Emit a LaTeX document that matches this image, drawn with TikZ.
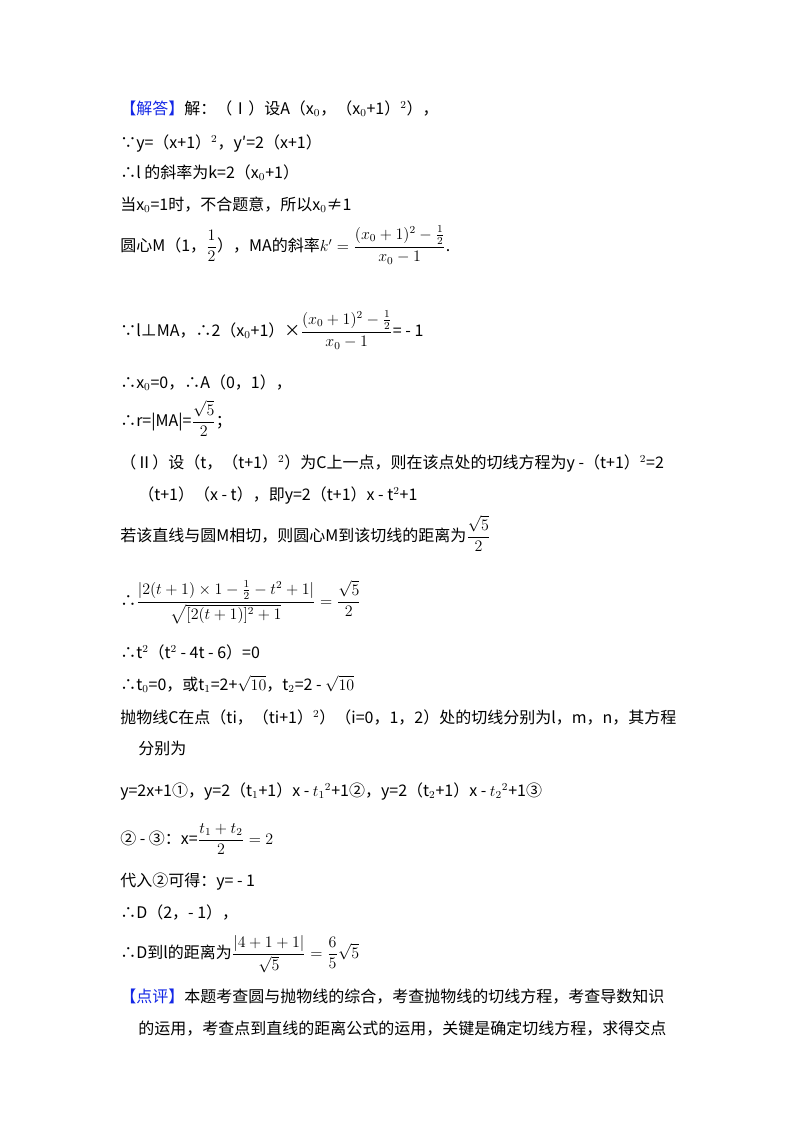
\documentclass[tikz,border=0pt]{standalone}
\usepackage{fontspec}
\setmainfont{Noto Sans CJK SC}
\usepackage{amsmath}
\definecolor{tagblue}{RGB}{20,40,230}
\begin{document}
\begin{tikzpicture}[x=0.75pt,y=-0.75pt,
  ln/.style={anchor=base west,inner sep=0pt,font=\fontsize{12}{14}\selectfont}]
\useasboundingbox[fill=white] (0,0) rectangle (800,1133);
\newcommand{\tagb}[1]{\textcolor{tagblue}{#1}}
\node[ln] (l1) at (120,114) {\tagb{【解答】}解：（Ⅰ）设A（x$_0$，（x$_0$+1）$^2$），};
\node[ln] (l2) at (120,148) {∵y=（x+1）$^2$，y′=2（x+1）};
\node[ln] (l3) at (120,178) {∴l 的斜率为k=2（x$_0$+1）};
\node[ln] (l4) at (120,210) {当x$_0$=1时，不合题意，所以x$_0$≠1};
\node[ln] (l5) at (120,251) {圆心M（1，$\dfrac12$），MA的斜率$k'=\dfrac{(x_0+1)^2-\frac12}{x_0-1}$.};
\node[ln] (l6) at (120,336) {∵l⊥MA，∴2（x$_0$+1）×$\dfrac{(x_0+1)^2-\frac12}{x_0-1}$= - 1};
\node[ln] (l7) at (120,388) {∴x$_0$=0，∴A（0，1），};
\node[ln] (l8) at (120,426) {∴r=|MA|=$\dfrac{\sqrt5}{2}$；};
\node[ln] (l9) at (120,468) {（Ⅱ）设（t，（t+1）$^2$）为C上一点，则在该点处的切线方程为y -（t+1）$^2$=2};
\node[ln] (l10) at (138,500) {（t+1）（x - t），即y=2（t+1）x - t$^2$+1};
\node[ln] (l11) at (120,541) {若该直线与圆M相切，则圆心M到该切线的距离为$\dfrac{\sqrt5}{2}$};
\node[ln] (l12) at (120,606) {∴$\dfrac{|2(t+1)\times1-\frac12-t^2+1|}{\sqrt{[2(t+1)]^2+1}}=\dfrac{\sqrt5}{2}$};
\node[ln] (l13) at (120,658) {∴t$^2$（t$^2$ - 4t - 6）=0};
\node[ln] (l14) at (120,690) {∴t$_0$=0，或t$_1$=2+$\sqrt{10}$，t$_2$=2 - $\sqrt{10}$};
\node[ln] (l15) at (120,723) {抛物线C在点（ti，（ti+1）$^2$）（i=0，1，2）处的切线分别为l，m，n，其方程};
\node[ln] (l16) at (138,754) {分别为};
\node[ln] (l17) at (120,796) {y=2x+1①，y=2（t$_1$+1）x - $t_1{}^2$+1②，y=2（t$_2$+1）x - $t_2{}^2$+1③};
\node[ln] (l18) at (120,844) {② - ③：x=$\dfrac{t_1+t_2}{2}=2$};
\node[ln] (l19) at (120,886) {代入②可得：y= - 1};
\node[ln] (l20) at (120,918) {∴D（2，- 1），};
\node[ln] (l21) at (120,958) {∴D到l的距离为$\dfrac{|4+1+1|}{\sqrt5}=\dfrac65\sqrt5$};
\node[ln] (l22) at (120,1002) {\tagb{【点评】}本题考查圆与抛物线的综合，考查抛物线的切线方程，考查导数知识};
\node[ln] (l23) at (138,1034) {的运用，考查点到直线的距离公式的运用，关键是确定切线方程，求得交点};
\end{tikzpicture}
\end{document}
